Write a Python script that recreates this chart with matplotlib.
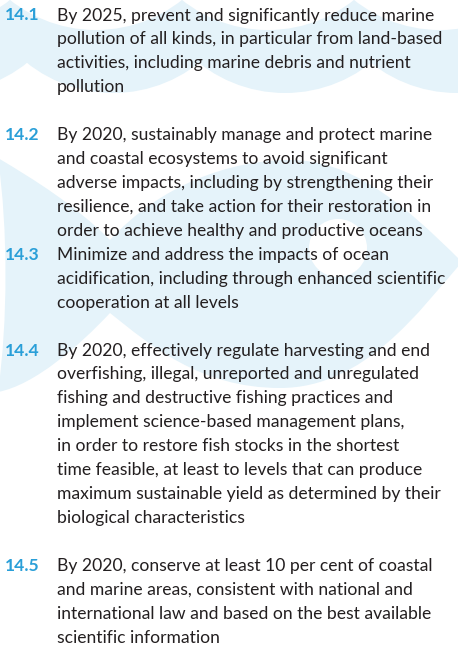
import numpy as np
import matplotlib
matplotlib.use("Agg")
import matplotlib.pyplot as plt
from matplotlib.patches import Circle, PathPatch
from matplotlib.path import Path

# targets and their lines
numbers = ["14.1", "14.2", "14.3", "14.4", "14.5"]
lines_141 = ["By 2025, prevent and significantly reduce marine",
             "pollution of all kinds, in particular from land-based",
             "activities, including marine debris and nutrient",
             "pollution"]
lines_142 = ["By 2020, sustainably manage and protect marine",
             "and coastal ecosystems to avoid significant",
             "adverse impacts, including by strengthening their",
             "resilience, and take action for their restoration in",
             "order to achieve healthy and productive oceans"]
lines_143 = ["Minimize and address the impacts of ocean",
             "acidification, including through enhanced scientific",
             "cooperation at all levels"]
lines_144 = ["By 2020, effectively regulate harvesting and end",
             "overfishing, illegal, unreported and unregulated",
             "fishing and destructive fishing practices and",
             "implement science-based management plans,",
             "in order to restore fish stocks in the shortest",
             "time feasible, at least to levels that can produce",
             "maximum sustainable yield as determined by their",
             "biological characteristics"]
lines_145 = ["By 2020, conserve at least 10 per cent of coastal",
             "and marine areas, consistent with national and",
             "international law and based on the best available",
             "scientific information"]
texts = [lines_141, lines_142, lines_143, lines_144, lines_145]
blank_before = [0, 1, 0, 1, 1]

W, H = 458, 645
LIGHT = "#e5f3fa"
BLUE = "#2a9fd8"
INK = "#231f20"
FONT = ["Lato", "DejaVu Sans"]

fig = plt.figure(figsize=(W / 100, H / 100), dpi=100)
ax = fig.add_axes([0, 0, 1, 1])
ax.set_xlim(0, W)
ax.set_ylim(H, 0)
ax.axis("off")

# wave band at the top
for k in range(-1, 4):
    ax.add_patch(Circle((113 + 172 * k, -45), 138, color=LIGHT, lw=0))
for k in range(-1, 4):
    ax.add_patch(Circle((96 + 172 * k, -108), 138, color="white", lw=0))

# fish: tail, body, eye
C4 = Path.CURVE4
tail = Path([(110, 240), (75, 205), (35, 180), (-2, 158),
             (8, 230), (8, 320), (-2, 392),
             (35, 385), (80, 345), (110, 313), (110, 240)],
            [Path.MOVETO, C4, C4, C4, C4, C4, C4, C4, C4, C4, Path.CLOSEPOLY])
ax.add_patch(PathPatch(tail, color=LIGHT, lw=0))
body = Path([(110, 240), (160, 185), (230, 160), (290, 160),
             (350, 160), (400, 200), (462, 262),
             (420, 310), (365, 388), (280, 388),
             (200, 388), (150, 345), (110, 313), (110, 240)],
            [Path.MOVETO, C4, C4, C4, C4, C4, C4, C4, C4, C4, C4, C4, C4,
             Path.CLOSEPOLY])
ax.add_patch(PathPatch(body, color=LIGHT, lw=0))
ax.add_patch(Circle((338, 248), 29, color="white", lw=0))

# fit font size so the first line has the reference width
probe = ax.text(0, 0, lines_141[0], fontsize=10, family=FONT)
fig.canvas.draw()
w = probe.get_window_extent().width
probe.remove()
size = 10 * 377 / w

y0, step = 20.5, 23.93
idx = 0
for num, lines, gap in zip(numbers, texts, blank_before):
    idx += gap
    ax.text(5, y0 + step * idx, num, fontsize=size, family=FONT,
            fontweight="bold", color=BLUE, va="baseline")
    for line in lines:
        ax.text(57, y0 + step * idx, line, fontsize=size, family=FONT,
                color=INK, va="baseline")
        idx += 1

fig.savefig("out.png", dpi=100)
